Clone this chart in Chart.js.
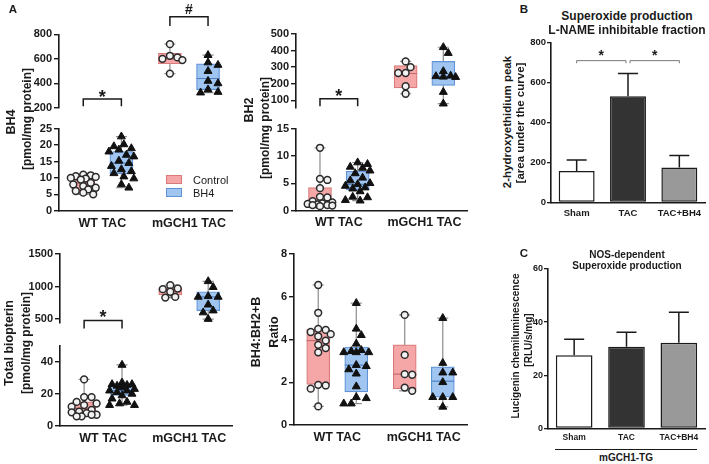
<!DOCTYPE html>
<html><head><meta charset="utf-8">
<script src="https://cdn.jsdelivr.net/npm/chart.js@4.4.1/dist/chart.umd.min.js"></script>
<style>
html,body{margin:0;padding:0;background:#fff;}
body{width:709px;height:464px;position:relative;overflow:hidden;font-family:"Liberation Sans",Arial,sans-serif;color:#1a1a1a;}
canvas{position:absolute;}
.t{position:absolute;white-space:nowrap;font-weight:bold;line-height:1;}
</style></head><body>
<script>
// ---------------- DATA ----------------
const groupLabels = ['WT TAC', 'mGCH1 TAC'];
const seriesLabels = ['Control', 'BH4'];
// box order: WT Control, WT BH4, mGCH1 Control, mGCH1 BH4

// Panel A - BH4 [pmol/mg protein]
const bh4Points = [
  [11.0, 10.8, 10.5, 10.3, 10.0, 9.8, 9.5, 8.5, 8.0, 7.5, 7.0, 6.5, 6.0, 5.5, 5.0],
  [22.6, 20.2, 19.6, 19.0, 18.6, 18.0, 17.0, 16.5, 15.2, 14.5, 13.6, 12.6, 12.0, 11.4, 10.4, 9.8, 8.0, 7.0],
  [720, 625, 612, 600, 590, 480],
  [630, 570, 550, 500, 420, 400, 350, 330, 325]
];
const bh4Min = [5.0, 7.0, 480, 325];
const bh4Q1  = [6.4, 11.2, 560, 350];
const bh4Med = [8.4, 14.5, 600, 440];
const bh4Q3  = [10.0, 18.0, 645, 560];
const bh4Max = [11.0, 22.6, 720, 630];
const bh4TopTicks = [200, 400, 600, 800];
const bh4BotTicks = [0, 5, 10, 15, 20, 25];

// Panel A - BH2 [pmol/mg protein]
const bh2Points = [
  [11.5, 5.8, 5.6, 4.1, 2.5, 2.4, 1.7, 1.5, 1.3, 1.2, 1.1, 1.0, 1.0, 0.9, 0.8],
  [8.8, 8.5, 8.0, 7.8, 7.3, 6.8, 6.0, 5.5, 5.0, 4.8, 4.5, 4.2, 4.0, 3.5, 2.5, 2.4, 1.9, 1.8],
  [335, 300, 265, 265, 185, 140],
  [420, 385, 275, 248, 245, 242, 240, 150, 80]
];
const bh2Min = [0.8, 1.8, 140, 80];
const bh2Q1  = [1.0, 3.8, 175, 190];
const bh2Med = [1.5, 4.8, 262, 245];
const bh2Q3  = [4.2, 7.2, 310, 335];
const bh2Max = [11.5, 8.8, 335, 420];
const bh2TopTicks = [100, 200, 300, 400, 500];
const bh2BotTicks = [0, 5, 10, 15];

// Panel A - Total biopterin [pmol/mg protein]
const tbPoints = [
  [29, 18, 18, 15, 14, 13, 12, 10, 9, 8.5, 8, 7, 7, 6, 6],
  [38, 27, 26, 26, 25.5, 25, 24, 23, 22, 22, 21, 20, 19, 17, 15, 14, 13, 13],
  [1020, 970, 960, 920, 840, 830],
  [1080, 990, 850, 840, 840, 720, 630, 600, 500]
];
const tbMin = [6, 13, 830, 500];
const tbQ1  = [8, 19, 870, 630];
const tbMed = [11, 22, 920, 840];
const tbQ3  = [15, 26, 980, 920];
const tbMax = [29, 38, 1020, 1080];
const tbTopTicks = [500, 1000, 1500];
const tbBotTicks = [0, 10, 20, 30, 40, 50];

// Panel A - BH4:BH2+B Ratio
const ratioPoints = [
  [6.55, 5.25, 4.5, 4.45, 4.35, 4.25, 4.15, 3.95, 3.75, 3.6, 3.4, 1.88, 1.85, 1.7, 0.87],
  [5.7, 4.5, 4.2, 3.8, 3.5, 3.45, 3.4, 3.4, 3.4, 2.8, 2.75, 2.6, 2.4, 1.8, 1.3, 1.25, 1.0, 1.0],
  [5.15, 3.28, 2.38, 2.35, 1.75, 1.6],
  [5.0, 2.9, 2.45, 2.45, 2.0, 1.3, 1.3, 1.3, 0.85]
];
const ratioMin = [0.87, 1.0, 1.6, 0.85];
const ratioQ1  = [1.9, 1.55, 1.7, 1.3];
const ratioMed = [3.95, 2.8, 2.38, 2.05];
const ratioQ3  = [4.47, 3.65, 3.75, 2.72];
const ratioMax = [6.55, 5.7, 5.15, 5.0];
const ratioTicks = [0, 2, 4, 6, 8];

// Panel B - superoxide, L-NAME inhibitable fraction
const bCategories = ['Sham', 'TAC', 'TAC+BH4'];
const bMeans = [157, 532, 175];
const bErrors = [55, 113, 60];
const bTicks = [0, 200, 400, 600, 800];

// Panel C - NOS-dependent superoxide
const cCategories = ['Sham', 'TAC', 'TAC+BH4'];
const cMeans = [27.5, 30.7, 32.2];
const cErrors = [6.0, 5.5, 11.5];
const cTicks = [0, 20, 40, 60];

// ---------------- STYLE ----------------
const FONT = '"Liberation Sans", Arial, sans-serif';
const INK = '#1a1a1a';
const fillCol = ['#f5a7a7', '#a0c5f0'];
const edgeCol = ['#d97b7b', '#5f93d6'];
const medCol = ['#c46a6a', '#4f80c2'];
const whiskCol = '#8c8c8c';

// ---------------- HELPERS ----------------
function addText(str, x, y, size, opts = {}) {
  const d = document.createElement('div');
  d.className = 't';
  d.textContent = str;
  d.style.fontSize = size + 'px';
  if (opts.weight) d.style.fontWeight = opts.weight;
  d.style.left = x + 'px'; d.style.top = y + 'px';
  if (opts.left) d.style.transform = 'translate(0,-50%)';
  else d.style.transform = 'translate(-50%,-50%)' + (opts.rot ? ' rotate(-90deg)' : '');
  document.body.appendChild(d);
  return d;
}
function addBox(x, y, w, h, bg, border) {
  const d = document.createElement('div');
  d.style.cssText = `position:absolute;left:${x}px;top:${y}px;width:${w}px;height:${h}px;background:${bg};${border ? 'border:1px solid ' + border + ';' : ''}box-sizing:border-box;`;
  document.body.appendChild(d);
}
function makeCanvas(r) {
  const c = document.createElement('canvas');
  c.width = r.w; c.height = r.h;
  c.style.left = r.l + 'px'; c.style.top = r.t + 'px';
  c.style.width = r.w + 'px'; c.style.height = r.h + 'px';
  document.body.appendChild(c);
  return c;
}

const bracketPlugin = {
  id: 'brackets',
  afterDraw(chart, args, opts) {
    const items = opts.items || [];
    const ctx = chart.ctx, xs = chart.scales.x, ys = chart.scales.y;
    items.forEach(b => {
      const x1 = xs.getPixelForValue(b.x1) + (b.d1 || 0);
      const x2 = xs.getPixelForValue(b.x2) + (b.d2 || 0);
      const yt = ys.getPixelForValue(b.y), yl = ys.getPixelForValue(b.leg);
      ctx.save();
      ctx.strokeStyle = b.color || INK; ctx.lineWidth = b.width || 1.5;
      ctx.beginPath(); ctx.moveTo(x1, yl); ctx.lineTo(x1, yt); ctx.lineTo(x2, yt); ctx.lineTo(x2, yl); ctx.stroke();
      ctx.fillStyle = INK; ctx.font = `bold ${b.size || 16}px ${FONT}`;
      ctx.textAlign = 'center'; ctx.textBaseline = 'middle';
      ctx.fillText(b.label, (x1 + x2) / 2, ys.getPixelForValue(b.ly));
      ctx.restore();
    });
  }
};
const errPlugin = {
  id: 'errbars',
  afterDatasetsDraw(chart, args, opts) {
    if (!opts.errors) return;
    const meta = chart.getDatasetMeta(0), ys = chart.scales.y, ctx = chart.ctx;
    meta.data.forEach((bar, i) => {
      const v = chart.data.datasets[0].data[i];
      const y0 = ys.getPixelForValue(v), y1 = ys.getPixelForValue(v + opts.errors[i]);
      ctx.save(); ctx.strokeStyle = INK; ctx.lineWidth = 1.5;
      ctx.beginPath(); ctx.moveTo(bar.x, y0); ctx.lineTo(bar.x, y1);
      ctx.moveTo(bar.x - opts.cap, y1); ctx.lineTo(bar.x + opts.cap, y1); ctx.stroke();
      ctx.restore();
    });
  }
};

// deterministic, compact beeswarm offset (pixels -> x units)
function swarm(vals, pxY, pxX, d, maxS) {
  const placed = [], step = 2.5;
  return vals.map(v => {
    const y = v * pxY;
    let best = 0, bestScore = -1;
    const nMax = 2 * Math.floor(maxS / step);
    for (let n = 0; n <= nMax; n++) {
      const cand = n === 0 ? 0 : (n % 2 ? 1 : -1) * Math.ceil(n / 2) * step;
      const md = placed.length ? Math.min(...placed.map(p => Math.hypot(p[0] - cand, p[1] - y))) : Infinity;
      if (md >= d) { best = cand; bestScore = Infinity; break; }
      if (md > bestScore) { bestScore = md; best = cand; }
    }
    placed.push([best, y]);
    return best / pxX;
  });
}

const OFF = 0.22;
function boxX(k) { return Math.floor(k / 2) + 1 + (k % 2 ? OFF : -OFF); }

function boxChart(rect, area, o) {
  const c = makeCanvas(rect);
  const pxY = (area.y1 - area.y0) / (o.yMax - o.yMin);
  const pxX = (area.x1 - area.x0) / 2;
  const boxPx = 23;
  const wh = [], box = [], caps = [], meds = [], ptsC = [], ptsB = [];
  const boxBg = [], boxBd = [], medBd = [];
  o.boxes.forEach(k => {
    const x = boxX(k), s = k % 2;
    wh.push({x, y: o.mn[k]}, {x, y: o.mx[k]}, {x, y: null});
    box.push({x, y: [o.q1[k], o.q3[k]]});
    boxBg.push(fillCol[s]); boxBd.push(edgeCol[s]);
    caps.push({x, y: o.mn[k]}, {x, y: o.mx[k]});
    meds.push({x, y: o.md[k]}); medBd.push(medCol[s]);
    const offs = swarm(o.pts[k], pxY, pxX, s ? 8 : 7.4, 14);
    o.pts[k].forEach((v, i) => (s ? ptsB : ptsC).push({x: x + offs[i], y: v}));
  });
  const W = area.x0 - rect.l;
  const padTop = area.y0 - rect.t;
  const padRight = rect.l + rect.w - area.x1;
  const below = rect.t + rect.h - area.y1;
  return new Chart(c, {
    type: 'scatter',
    data: {datasets: [
      {type: 'line', data: wh, borderColor: whiskCol, borderWidth: 1.2, pointRadius: 0, spanGaps: false, order: 5},
      {type: 'bar', data: box, backgroundColor: boxBg, borderColor: boxBd, borderWidth: 1.2, borderSkipped: false, barThickness: boxPx, order: 4},
      {data: caps, pointStyle: 'line', pointRadius: 5.5, borderColor: whiskCol, borderWidth: 1.2, order: 3},
      {data: meds, pointStyle: 'line', pointRadius: boxPx / 2, borderColor: medBd, borderWidth: 1.2, order: 2},
      {data: ptsC, pointStyle: 'circle', pointRadius: 3.4, backgroundColor: '#f2f2f2', borderColor: '#2a2a2a', borderWidth: 1.5, order: 1},
      {data: ptsB, pointStyle: 'triangle', pointRadius: 4.6, backgroundColor: '#111', borderColor: '#111', borderWidth: 1, order: 0}
    ]},
    options: {
      responsive: false, animation: false, devicePixelRatio: 1,
      layout: {padding: {left: 0, top: padTop, right: padRight, bottom: o.showX ? 0 : below}},
      plugins: {legend: {display: false}, tooltip: {enabled: false}, brackets: {items: o.brackets || []}},
      scales: {
        x: {type: 'linear', min: 0.5, max: 2.5, offset: false, display: o.showX,
            grid: {display: false, drawTicks: false, offset: false},
            border: {display: true, color: INK, width: 1.6},
            ticks: {color: INK, padding: 5, maxRotation: 0, autoSkip: false, font: {family: FONT, weight: 'bold', size: 12.5}, callback: v => groupLabels[v - 1]},
            afterBuildTicks: s => { s.ticks = [{value: 1}, {value: 2}]; },
            afterFit: s => { s.height = below; }},
        y: {type: 'linear', min: o.yMin, max: o.yMax,
            grid: {display: true, drawOnChartArea: false, drawTicks: true, tickLength: 5, color: INK, lineWidth: 1.4},
            border: {display: true, color: INK, width: 1.6},
            ticks: {color: INK, padding: 2, font: {family: FONT, weight: 'bold', size: 11}, callback: v => String(v)},
            afterBuildTicks: s => { s.ticks = o.ticks.map(v => ({value: v})); },
            afterFit: s => { s.width = W; }}
      }
    },
    plugins: [bracketPlugin]
  });
}

function barChart(rect, area, o) {
  const c = makeCanvas(rect);
  const W = area.x0 - rect.l;
  const below = rect.t + rect.h - area.y1;
  return new Chart(c, {
    type: 'bar',
    data: {labels: o.labels, datasets: [{data: o.means, backgroundColor: ['#ffffff', '#333333', '#999999'], borderColor: INK, borderWidth: 1.5, borderSkipped: false, barPercentage: 0.7, categoryPercentage: 1}]},
    options: {
      responsive: false, animation: false, devicePixelRatio: 1,
      layout: {padding: {left: 0, top: area.y0 - rect.t, right: rect.l + rect.w - area.x1, bottom: 0}},
      plugins: {legend: {display: false}, tooltip: {enabled: false}, errbars: {errors: o.errors, cap: 10}, brackets: {items: o.brackets || []}},
      scales: {
        x: {grid: {display: false, drawTicks: false}, border: {display: true, color: INK, width: 1.6},
            ticks: {color: INK, padding: o.xPad, maxRotation: 0, autoSkip: false, font: {family: FONT, weight: 'bold', size: o.xSize}},
            afterFit: s => { s.height = below; }},
        y: {min: o.ticks[0], max: o.ticks[o.ticks.length - 1],
            grid: {display: true, drawOnChartArea: false, drawTicks: true, tickLength: 4, color: INK, lineWidth: 1.3},
            border: {display: true, color: INK, width: 1.6},
            ticks: {color: INK, padding: 1, font: {family: FONT, weight: 'bold', size: o.ySize}},
            afterBuildTicks: s => { s.ticks = o.ticks.map(v => ({value: v})); },
            afterFit: s => { s.width = W; }}
      }
    },
    plugins: [errPlugin, bracketPlugin]
  });
}

// ---------------- PANEL A ----------------
const bh4Args = {pts: bh4Points, mn: bh4Min, q1: bh4Q1, md: bh4Med, q3: bh4Q3, mx: bh4Max};
boxChart({l: 0, t: 0, w: 245, h: 122}, {x0: 59, x1: 233, y0: 34.3, y1: 115},
  Object.assign({yMin: 200, yMax: 800, ticks: bh4TopTicks, boxes: [2, 3], showX: false,
    brackets: [
      {x1: boxX(0), x2: boxX(1), y: 274, leg: 215, label: '*', ly: 285, size: 18},
      {x1: boxX(2), x2: boxX(3), y: 942, leg: 868, label: '#', ly: 1000, size: 14}
    ]}, bh4Args));
boxChart({l: 0, t: 116, w: 245, h: 120}, {x0: 59, x1: 233, y0: 127.7, y1: 210.7},
  Object.assign({yMin: 0, yMax: 25, ticks: bh4BotTicks, boxes: [0, 1], showX: true}, bh4Args));

const bh2Args = {pts: bh2Points, mn: bh2Min, q1: bh2Q1, md: bh2Med, q3: bh2Q3, mx: bh2Max};
boxChart({l: 250, t: 0, w: 230, h: 122}, {x0: 296, x1: 470, y0: 34, y1: 115},
  Object.assign({yMin: 54, yMax: 500, ticks: bh2TopTicks, boxes: [2, 3], showX: false,
    brackets: [{x1: boxX(0), x2: boxX(1), y: 109, leg: 65, label: '*', ly: 118, size: 18}]}, bh2Args));
boxChart({l: 250, t: 116, w: 230, h: 120}, {x0: 296, x1: 470, y0: 127.7, y1: 210.5},
  Object.assign({yMin: 0, yMax: 15, ticks: bh2BotTicks, boxes: [0, 1], showX: true}, bh2Args));

const tbArgs = {pts: tbPoints, mn: tbMin, q1: tbQ1, md: tbMed, q3: tbQ3, mx: tbMax};
boxChart({l: 0, t: 235, w: 245, h: 100}, {x0: 60, x1: 233, y0: 254, y1: 332},
  Object.assign({yMin: 450, yMax: 1500, ticks: tbTopTicks, boxes: [2, 3], showX: false,
    brackets: [{x1: boxX(0), x2: boxX(1), y: 477, leg: 356, label: '*', ly: 512, size: 18}]}, tbArgs));
boxChart({l: 0, t: 333, w: 245, h: 131}, {x0: 60, x1: 233, y0: 344.5, y1: 426},
  Object.assign({yMin: 0, yMax: 50, ticks: tbBotTicks, boxes: [0, 1], showX: true}, tbArgs));

boxChart({l: 250, t: 235, w: 230, h: 229}, {x0: 294, x1: 467, y0: 254, y1: 425},
  {yMin: 0, yMax: 8, ticks: ratioTicks, boxes: [0, 1, 2, 3], showX: true,
   pts: ratioPoints, mn: ratioMin, q1: ratioQ1, md: ratioMed, q3: ratioQ3, mx: ratioMax});

// ---------------- PANEL B / C ----------------
barChart({l: 520, t: 30, w: 189, h: 195}, {x0: 551, x1: 705, y0: 42.7, y1: 202.3},
  {labels: bCategories, means: bMeans, errors: bErrors, ticks: bTicks, xSize: 9.5, ySize: 9.5, xPad: 5,
   brackets: [
     {x1: 0, x2: 1, d2: -2, y: 710, leg: 697, label: '*', ly: 733, size: 14, color: '#777', width: 1},
     {x1: 1, x2: 2, d1: 2, y: 710, leg: 697, label: '*', ly: 733, size: 14, color: '#777', width: 1}
   ]});
barChart({l: 520, t: 255, w: 189, h: 190}, {x0: 548, x1: 705, y0: 269, y1: 428.3},
  {labels: cCategories, means: cMeans, errors: cErrors, ticks: cTicks, xSize: 8.5, ySize: 9, xPad: 4});

// ---------------- TEXT ----------------
addText('A', 13, 10, 11.5);
addText('BH4', 11, 122, 12.5, {rot: true});
addText('[pmol/mg protein]', 27, 119, 12, {rot: true});
addText('BH2', 249, 110, 12.5, {rot: true});
addText('[pmol/mg protein]', 265, 128, 12, {rot: true});
addText('Total biopterin', 9, 343, 12.5, {rot: true});
addText('[pmol/mg protein]', 26, 343, 12, {rot: true});
addText('BH4:BH2+B', 256, 332, 12.5, {rot: true});
addText('Ratio', 274, 332, 12.5, {rot: true});

addBox(166, 175, 16, 9, fillCol[0], edgeCol[0]);
addBox(166, 188, 16, 9, fillCol[1], edgeCol[1]);
addText(seriesLabels[0], 193, 179.5, 11, {left: true, weight: 'normal'});
addText(seriesLabels[1], 193, 192.5, 11, {left: true, weight: 'normal'});

addText('B', 524, 10, 11.5);
addText('Superoxide production', 627, 16, 12);
addText('L-NAME inhibitable fraction', 627, 29.5, 12);
addText('2-hydroxyethidium peak', 508, 122, 11.5, {rot: true});
addText('[area under the curve]', 521, 123, 11.5, {rot: true});

addText('C', 524, 254, 11.5);
addText('NOS-dependent', 627, 254.5, 10);
addText('Superoxide production', 627, 265.5, 10);
addText('Lucigenin chemiluminescence', 516, 346, 10, {rot: true});
addText('[RLU/s/mg]', 529, 340, 10, {rot: true});
addBox(555, 448.5, 142, 1.4, INK);
addText('mGCH1-TG', 626, 458, 10);
</script>
</body></html>
